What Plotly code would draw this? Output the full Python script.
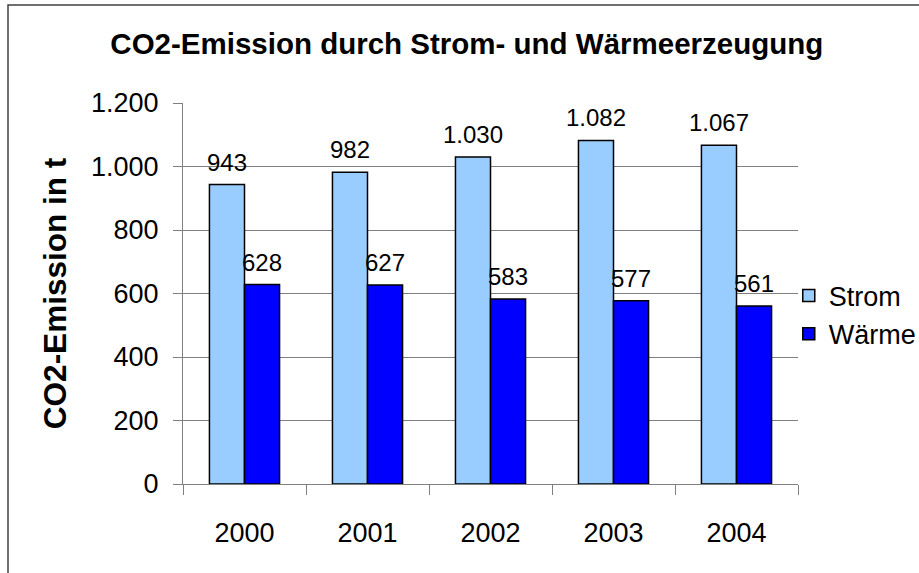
import plotly.graph_objects as go

years = ["2000", "2001", "2002", "2003", "2004"]
strom = [943, 982, 1030, 1082, 1067]
waerme = [628, 627, 583, 577, 561]
y_ticks = [0, 200, 400, 600, 800, 1000, 1200]

FONT = "Liberation Sans, Arial, sans-serif"

def de(v):
    return f"{v:,}".replace(",", ".")

fig = go.Figure()
fig.add_trace(go.Bar(name="Strom", x=years, y=strom, marker=dict(color="#99CCFF", line=dict(color="black", width=1.5))))
fig.add_trace(go.Bar(name="Wärme", x=years, y=waerme, marker=dict(color="#0000FF", line=dict(color="black", width=1.5))))

bar_px = 35
ann = []
for series, shift in ((strom, -bar_px / 2), (waerme, bar_px / 2)):
    for i, v in enumerate(series):
        ann.append(dict(x=i, y=v, xref="x", yref="y", text=de(v), showarrow=False,
                        xshift=shift, yanchor="bottom", yshift=7,
                        font=dict(family=FONT, size=24, color="black")))

fig.update_layout(
    width=919, height=573,
    margin=dict(l=183, r=121, t=103, b=89, autoexpand=False),
    paper_bgcolor="white", plot_bgcolor="white",
    barmode="group", bargap=0.43, bargroupgap=0,
    separators=",.",
    font=dict(family=FONT, size=27, color="black"),
    title=dict(text="<b>CO2-Emission durch Strom- und Wärmeerzeugung</b>", x=0.508, xref="container",
               xanchor="center", y=1 - 44 / 573, yref="container", yanchor="middle",
               font=dict(family=FONT, size=29.5, color="black")),
    xaxis=dict(type="category", range=[-0.5, len(years) - 0.5], automargin=False, showline=True,
               linecolor="#808080", linewidth=1, ticks="outside", tickson="boundaries", ticklen=10,
               tickcolor="#808080", showgrid=False, tickfont=dict(size=27), tickangle=0,
               ticklabelstandoff=25),
    yaxis=dict(range=[0, 1200], automargin=False, tickvals=y_ticks, ticktext=[de(v) for v in y_ticks],
               showline=True, linecolor="#808080", linewidth=1, ticks="outside", ticklen=9,
               tickcolor="#808080", showgrid=True, gridcolor="#808080", gridwidth=1,
               zeroline=False, tickfont=dict(size=27), ticklabelstandoff=9,
               title=dict(text="<b>CO2-Emission in t</b>", font=dict(size=31.5), standoff=14)),
    legend=dict(x=0.985, xanchor="left", y=0.4436, yanchor="middle", font=dict(size=27),
                bgcolor="rgba(0,0,0,0)"),
    annotations=ann,
    shapes=[dict(type="rect", xref="paper", yref="paper",
                 x0=(8 - 183) / 615, x1=(930 - 183) / 615,
                 y0=(484 - 590) / 381, y1=(484 - 5) / 381,
                 line=dict(color="#404040", width=1.5), fillcolor="rgba(0,0,0,0)", layer="below")],
)

fig.write_html("out.html", config={"displayModeBar": False},
               post_script="document.body.style.margin='0';document.body.style.overflow='hidden';")
